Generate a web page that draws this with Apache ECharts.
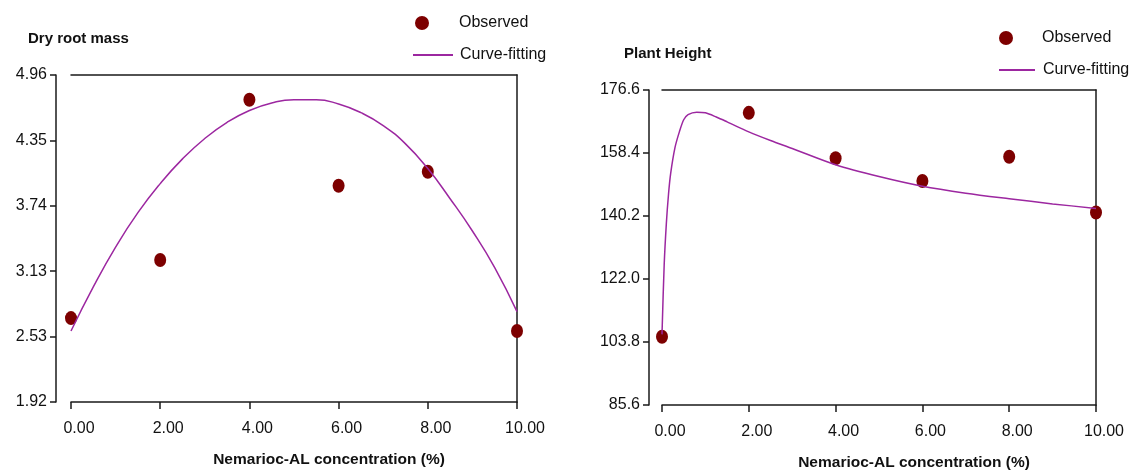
<!DOCTYPE html>
<html>
<head>
<meta charset="utf-8">
<script src="https://cdn.jsdelivr.net/npm/echarts@6/dist/echarts.min.js"></script>
<style>
  html, body { margin: 0; padding: 0; background: #fff; }
  #ch { width: 1132px; height: 471px; }
</style>
</head>
<body>
<div id="ch"></div>
<script>
// x categories (concentration %)
var concX = [0, 2, 4, 6, 8, 10];
var xTickLabels = ['0.00', '2.00', '4.00', '6.00', '8.00', '10.00'];

// Dry root mass
var rootObs = [2.70, 3.24, 4.73, 3.93, 4.06, 2.58];
var rootFitX = [0, 0.5, 1, 1.5, 2, 2.5, 3, 3.5, 4, 4.5, 5, 5.5, 6, 6.5, 7, 7.5, 8, 8.5, 9, 9.5, 10];
var rootFitY = [2.58, 2.99, 3.36, 3.68, 3.95, 4.18, 4.37, 4.52, 4.63, 4.70, 4.73, 4.73, 4.69, 4.61, 4.49, 4.32, 4.09, 3.81, 3.51, 3.17, 2.76];
var rootTicks = ['1.92', '2.53', '3.13', '3.74', '4.35', '4.96'];

// Plant height
var htObs = [105.3, 170.0, 156.9, 150.3, 157.3, 141.2];
var htFitX = [0, 0.05, 0.1, 0.15, 0.2, 0.3, 0.4, 0.5, 0.6, 0.8, 1, 1.25, 1.5, 2, 2.5, 3, 4, 5, 6, 7, 8, 9, 10];
var htFitY = [106, 126, 138, 146.5, 152.5, 160, 164.5, 168, 169.5, 170.2, 170, 168.8, 167.4, 164.5, 162, 159.7, 155, 151.6, 148.8, 146.8, 145.2, 143.7, 142.4];
var htTicks = ['85.6', '103.8', '122.0', '140.2', '158.4', '176.6'];

var FONT = '"Liberation Sans", Arial, sans-serif';
var AXC = '#1a1a1a';
var DOT = '#7d0000';
var FIT = '#9c27a0';

function pairs(xs, ys) {
  return xs.map(function (x, i) { return [x, ys[i]]; });
}

function bottomAxis(g) {
  return {
    type: 'value', gridIndex: g, min: 0, max: 10, interval: 2,
    name: 'Nemarioc-AL concentration (%)',
    nameLocation: 'middle', nameGap: 50,
    nameTextStyle: { fontFamily: FONT, fontSize: 15.5, fontWeight: 'bold', color: '#111', padding: [0, 0, 0, 70] },
    axisLine: { onZero: false, lineStyle: { color: AXC, width: 1.5 } },
    axisTick: { length: 7, lineStyle: { color: AXC, width: 1.5 } },
    axisLabel: {
      margin: 19, fontFamily: FONT, fontSize: 16, color: '#111', padding: [0, 0, 0, 16],
      formatter: function (v, i) { return xTickLabels[i]; }
    },
    splitLine: { show: false }
  };
}

function topAxis(g) {
  return {
    type: 'value', gridIndex: g, position: 'top', min: 0, max: 10,
    axisLine: { onZero: false, lineStyle: { color: AXC, width: 1.5 } },
    axisTick: { show: false }, axisLabel: { show: false }, splitLine: { show: false }
  };
}

function leftAxis(g, lo, hi, step, labels, off) {
  return {
    type: 'value', gridIndex: g, position: 'left', min: lo, max: hi, interval: step, offset: off,
    axisLine: { show: true, onZero: false, lineStyle: { color: AXC, width: 1.5 } },
    axisTick: { show: true, length: 6, lineStyle: { color: AXC, width: 1.5 } },
    axisLabel: {
      margin: 9, fontFamily: FONT, fontSize: 16, color: '#111',
      formatter: function (v, i) { return labels[i]; }
    },
    splitLine: { show: false }
  };
}

function rightAxis(g, lo, hi) {
  return {
    type: 'value', gridIndex: g, position: 'right', min: lo, max: hi,
    axisLine: { show: true, onZero: false, lineStyle: { color: AXC, width: 1.5 } },
    axisTick: { show: false }, axisLabel: { show: false }, splitLine: { show: false }
  };
}

function legendItem(name, icon, left, top, w, h, padL) {
  return {
    data: [{ name: name, icon: icon }], left: left, top: top, padding: 0,
    itemWidth: w, itemHeight: h, selectedMode: false,
    textStyle: { fontFamily: FONT, fontSize: 16, color: '#111', padding: [0, 0, 0, padL] }
  };
}

window.onload = function () {
  var ch = echarts.init(document.getElementById('ch'));
  var op = {
    animation: false,
    title: [
      { text: 'Dry root mass', left: 28, top: 31, padding: 0,
        textStyle: { fontFamily: FONT, fontSize: 15, fontWeight: 'bold', color: '#111' } },
      { text: 'Plant Height', left: 624, top: 46, padding: 0,
        textStyle: { fontFamily: FONT, fontSize: 15, fontWeight: 'bold', color: '#111' } }
    ],
    legend: [
      legendItem('Observed', 'circle', 415, 15, 14, 14, 25),
      legendItem('Curve-fitting', 'rect', 413, 47, 40, 2, 2),
      legendItem('Observed ', 'circle', 999, 30, 14, 14, 24),
      legendItem('Curve-fitting ', 'rect', 999, 62, 36, 2, 3)
    ],
    grid: [
      { left: 71, right: 615, top: 75, bottom: 69, outerBoundsMode: 'none' },
      { left: 662, right: 36, top: 90, bottom: 66, outerBoundsMode: 'none' }
    ],
    xAxis: [bottomAxis(0), topAxis(0), bottomAxis(1), topAxis(1)],
    yAxis: [
      leftAxis(0, 1.92, 4.96, 0.608, rootTicks, 15),
      rightAxis(0, 1.92, 4.96),
      leftAxis(1, 85.6, 176.6, 18.2, htTicks, 13),
      rightAxis(1, 85.6, 176.6)
    ],
    series: [
      { name: 'Curve-fitting', type: 'line', xAxisIndex: 0, yAxisIndex: 0,
        data: pairs(rootFitX, rootFitY), symbol: 'none', smooth: 0.5,
        lineStyle: { color: FIT, width: 1.5 }, itemStyle: { color: FIT } },
      { name: 'Observed', type: 'scatter', xAxisIndex: 0, yAxisIndex: 0,
        data: pairs(concX, rootObs), symbol: 'circle', symbolSize: [12, 14],
        itemStyle: { color: DOT, opacity: 1 } },
      { name: 'Curve-fitting ', type: 'line', xAxisIndex: 2, yAxisIndex: 2,
        data: pairs(htFitX, htFitY), symbol: 'none', smooth: 0.3,
        lineStyle: { color: FIT, width: 1.5 }, itemStyle: { color: FIT } },
      { name: 'Observed ', type: 'scatter', xAxisIndex: 2, yAxisIndex: 2,
        data: pairs(concX, htObs), symbol: 'circle', symbolSize: [12, 14],
        itemStyle: { color: DOT, opacity: 1 } }
    ]
  };
  ch.setOption(op);
};
</script>
</body>
</html>
